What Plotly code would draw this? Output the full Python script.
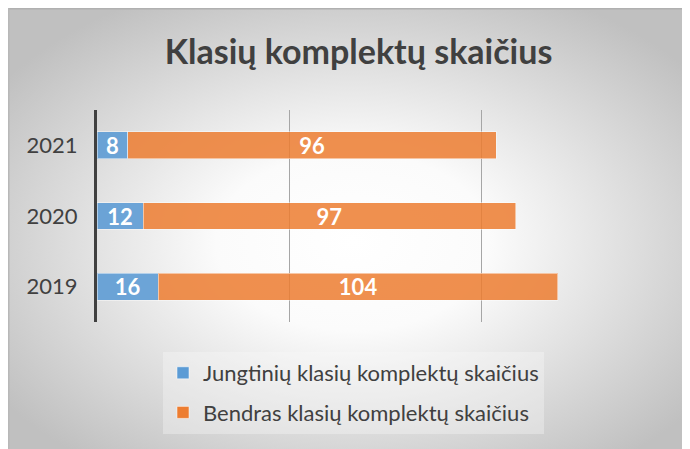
import base64
import plotly.graph_objects as go

years = ["2019", "2020", "2021"]
jungtiniu = [16, 12, 8]
bendras = [104, 97, 96]
series_names = ["Jungtinių klasių komplektų skaičius", "Bendras klasių komplektų skaičius"]
title_text = "Klasių komplektų skaičius"

W, H = 690, 449
L, R, T, B = 89, 25, 102, 135
PW, PH = W - L - R, H - T - B

svg = (
    '<svg xmlns="http://www.w3.org/2000/svg" width="690" height="449" viewBox="0 0 690 449" preserveAspectRatio="none">'
    '<defs><radialGradient id="g" cx="0.50" cy="0.52" r="0.62">'
    '<stop offset="0" stop-color="#ffffff"/>'
    '<stop offset="0.32" stop-color="#fbfbfb"/>'
    '<stop offset="1" stop-color="#c0c0c0"/>'
    '</radialGradient></defs>'
    '<rect x="0" y="0" width="690" height="449" fill="url(#g)"/>'
    '<line x1="0" y1="0.75" x2="690" y2="0.75" stroke="#b0b0b0" stroke-width="1.5"/>'
    '<line x1="0.75" y1="0" x2="0.75" y2="449" stroke="#b8b8b8" stroke-width="1.5"/>'
    '</svg>'
)
src = "data:image/svg+xml;base64," + base64.b64encode(svg.encode()).decode()

label_font = dict(color="white", size=22, family="Lato", weight="bold")

fig = go.Figure()
fig.add_trace(go.Bar(
    y=years, x=jungtiniu, orientation="h", name=series_names[0],
    marker=dict(color="#5B9BD5", opacity=0.88, line=dict(color="rgba(255,255,255,0.5)", width=1)),
    text=jungtiniu, textposition="inside", insidetextanchor="middle", textangle=0,
    constraintext="none", textfont=label_font, legendgroup="a",
))
fig.add_trace(go.Bar(
    y=years, x=bendras, orientation="h", name=series_names[1],
    marker=dict(color="#ED7D31", opacity=0.85, line=dict(color="rgba(255,255,255,0.5)", width=1)),
    text=bendras, textposition="inside", insidetextanchor="middle", textangle=0,
    constraintext="none", textfont=label_font, legendgroup="b",
))

fig.update_layout(
    width=W, height=H,
    margin=dict(l=L, r=R, t=T, b=B, autoexpand=False),
    paper_bgcolor="#d0d0d0",
    plot_bgcolor="rgba(0,0,0,0)",
    barmode="stack",
    bargap=0.62,
    font=dict(family="Lato", color="#404040"),
    title=dict(text=title_text, x=0.508, xanchor="center", y=1 - 44 / H, yanchor="middle",
               font=dict(size=34, family="Lato", weight="bold", color="#404040")),
    showlegend=True,
    legend=dict(x=(155 - L) / PW, xanchor="left", y=(H - B - 344) / PH, yanchor="top",
                traceorder="grouped", tracegroupgap=8,
                bgcolor="rgba(248,248,248,0.35)",
                font=dict(size=22, family="Lato", color="#404040")),
    images=[dict(source=src, xref="paper", yref="paper",
                 x=-L / PW, y=(H - B) / PH,
                 sizex=W / PW, sizey=H / PH,
                 xanchor="left", yanchor="top", sizing="stretch", layer="below")],
)
fig.update_xaxes(range=[0, 150], dtick=50, showticklabels=False, showgrid=True,
                 gridcolor="#a6a6a6", gridwidth=1, zeroline=False, showline=False)
fig.update_yaxes(showline=True, linecolor="#404040", linewidth=3, ticks="",
                 ticklabelstandoff=12, tickfont=dict(size=22, family="Lato", color="#404040"),
                 showgrid=False)

fig.write_html("out.html")
